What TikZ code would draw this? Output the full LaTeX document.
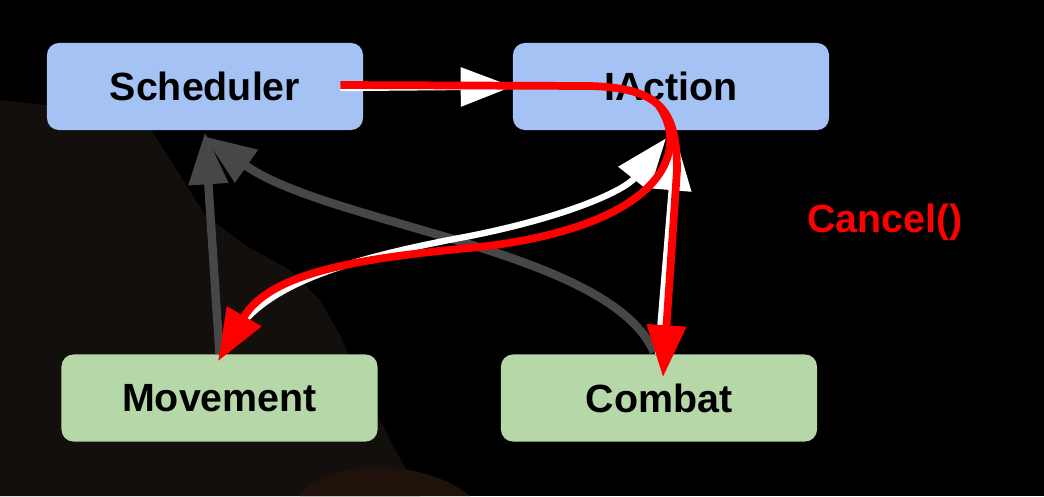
\documentclass[tikz,border=0pt]{standalone}
\usepackage{fontspec}
\setmainfont{Liberation Sans}
\usetikzlibrary{arrows.meta,calc}

\definecolor{boxblue}{HTML}{A4C2F4}
\definecolor{boxgreen}{HTML}{B6D7A8}
\definecolor{linkgray}{HTML}{474747}
\definecolor{cancelred}{HTML}{FF0000}
\definecolor{dragonskin}{HTML}{130F0D}
\definecolor{dragonfire}{HTML}{1E120A}

\tikzset{
  box/.style={rounded corners=0.3cm, minimum width=7.9cm, minimum height=2.175cm,
    inner sep=0pt, text=black, font=\fontsize{28}{32}\selectfont\bfseries},
  head/.style={-{Triangle[length=1.3cm,width=0.95cm]}},
  callarr/.style={head, draw=white, line width=4.5pt},
  backarr/.style={head, draw=linkgray, line width=6pt},
  cancelarr/.style={head, draw=cancelred, line width=5.5pt}
}

\begin{document}
\begin{tikzpicture}[x=0.025cm,y=-0.025cm]
  \useasboundingbox (0,0) rectangle (1044,496);
  \fill[black] (0,0) rectangle (1044,496);

  % dragon behind the diagram
  \fill[dragonskin] (0,100) -- (70,108) -- (150,128) -- (180,175) -- (205,215)
    -- (245,245) -- (290,270) -- (320,300) -- (340,335) -- (360,380)
    -- (390,440) -- (420,496) -- (0,496) -- cycle;
  \fill[dragonfire] (300,496) .. controls (320,460) and (420,455) .. (470,496) -- cycle;

  % boxes
  \node[box, fill=boxblue] (sched) at (205,86.5) {Scheduler};
  \node[box, fill=boxblue] (act) at (671,86.5) {IAction};
  \node[box, fill=boxgreen] (move) at (219.5,398) {Movement};
  \node[box, fill=boxgreen] (combat) at (659,398) {Combat};
  \node[text=cancelred, font=\fontsize{28}{32}\selectfont\bfseries] (cancel) at (885,222) {Cancel()};

  % back to the scheduler
  \draw[backarr] (move.north) -- ($(sched.south)+(0,2)$);
  \draw[backarr] ($(combat.north)+(-5,-2)$) .. controls (610,250) and (330,225) .. ($(sched.south)+(-1,6)$);

  % calls into IAction
  \draw[callarr] ($(sched.east)+(-23,1.5)$) -- (act.west);
  \draw[callarr] ($(move.north)+(6,-3)$) .. controls (250,290) and (330,262) .. (470,236)
    .. controls (570,216) and (625,190) .. ($(act.south)+(-5,8)$);
  \draw[callarr] ($(combat.north)+(-1,0)$) -- ($(act.south)+(5,8)$);

  % Cancel()
  \draw[cancelarr] ($(sched.east)+(-23,-1.5)$) -- (590,86) .. controls (660,88) and (677,110) .. (677,170)
    -- ($(combat.north)+(4,23)$);
  \draw[cancelarr] (659,106) .. controls (690,150) and (665,225) .. (480,247)
    .. controls (360,258) and (270,272) .. ($(move.north)+(-1.5,7)$);
\end{tikzpicture}
\end{document}
